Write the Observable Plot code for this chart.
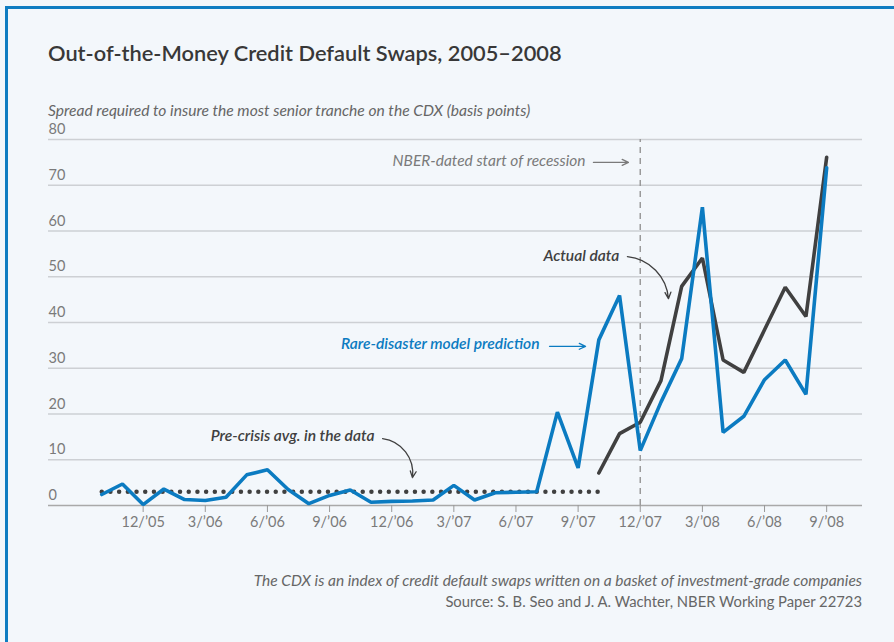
<!DOCTYPE html>
<html><head><meta charset="utf-8">
<script src="https://cdn.jsdelivr.net/npm/d3@7"></script>
<script src="https://cdn.jsdelivr.net/npm/@observablehq/plot@0.6"></script>
<style>
html,body{margin:0;padding:0;background:#f3f7fb;}
#wrap{position:relative;width:894px;height:642px;overflow:hidden;background:#f3f7fb;font-family:Lato,"Noto Sans",sans-serif;}
#frame{position:absolute;left:5px;top:6px;width:1000px;height:1000px;border-left:3px solid #0f7dc2;border-top:3px solid #0f7dc2;}
#title{position:absolute;left:48px;top:40px;font-size:21.8px;line-height:26px;font-weight:600;color:#383838;white-space:nowrap;}
#subtitle{position:absolute;left:48px;top:101px;font-size:15.6px;line-height:18px;font-style:italic;color:#666;white-space:nowrap;}
#caption{position:absolute;right:32px;top:571px;font-size:15.5px;line-height:18px;font-style:italic;color:#666;white-space:nowrap;text-align:right;}
#source{position:absolute;right:32px;top:592px;font-size:14.8px;line-height:18px;color:#666;white-space:nowrap;text-align:right;}
#chart{position:absolute;left:0;top:120px;}
</style>
</head><body>
<div id="wrap">
  <div id="frame"></div>
  <div id="title">Out-of-the-Money Credit Default Swaps, 2005–2008</div>
  <div id="subtitle">Spread required to insure the most senior tranche on the CDX (basis points)</div>
  <div id="chart"></div>
  <div id="caption">The CDX is an index of credit default swaps written on a basket of investment-grade companies</div>
  <div id="source">Source: S. B. Seo and J. A. Wachter, NBER Working Paper 22723</div>
</div>
<script>
// Monthly observations, Oct 2005 – Sep 2008
const months = [
  "2005-10","2005-11","2005-12",
  "2006-01","2006-02","2006-03","2006-04","2006-05","2006-06","2006-07","2006-08","2006-09","2006-10","2006-11","2006-12",
  "2007-01","2007-02","2007-03","2007-04","2007-05","2007-06","2007-07","2007-08","2007-09","2007-10","2007-11","2007-12",
  "2008-01","2008-02","2008-03","2008-04","2008-05","2008-06","2008-07","2008-08","2008-09"
];
// Rare-disaster model prediction (basis points)
const modelValues = [
  2.4, 4.7, 0.2,
  3.6, 1.3, 1.1, 1.8, 6.7, 7.8, 3.5, 0.4, 2.2, 3.4, 0.7, 0.9,
  1.0, 1.2, 4.4, 1.2, 2.8, 2.9, 3.0, 20.4, 8.2, 36.2, 45.9, 12.0,
  22.6, 32.1, 65.2, 16.0, 19.5, 27.5, 31.8, 24.3, 73.8
];
// Actual data (basis points), available from Oct 2007
const actualValues = [
  null, null, null,
  null, null, null, null, null, null, null, null, null, null, null, null,
  null, null, null, null, null, null, null, null, null, 7.1, 15.7, 18.2,
  27.3, 47.9, 54.1, 31.8, 29.1, 38.4, 47.7, 41.3, 76.1
];
const preCrisisAvg = 3.0;
const preCrisisRange = ["2005-10", "2007-10"];
const recessionStart = "2007-12";
const tickMonths = ["2005-12","2006-03","2006-06","2006-09","2006-12","2007-03","2007-06","2007-09","2007-12","2008-03","2008-06","2008-09"];
const tickLabels = ["12/’05","3/’06","6/’06","9/’06","12/’06","3/’07","6/’07","9/’07","12/’07","3/’08","6/’08","9/’08"];
const yTicks = [0, 10, 20, 30, 40, 50, 60, 70, 80];

const idx = m => months.indexOf(m);
const model = months.map((m, i) => ({i, v: modelValues[i]}));
const actual = months.map((m, i) => ({i, v: actualValues[i]})).filter(d => d.v != null);
const preCrisis = preCrisisRange.map(m => ({i: idx(m), v: preCrisisAvg}));
const tickIdx = tickMonths.map(idx);
const tickText = new Map(tickIdx.map((t, k) => [t, tickLabels[k]]));

const BLUE = "#0b7bc1", DARK = "#404040", GRAY = "#7a7a7a";

const noteRecession = {text: "NBER-dated start of recession", i: 23.36, v: 75.2};
const noteActual = {text: "Actual data", i: 24.99, v: 54.6};
const noteModel = {text: "Rare-disaster model prediction", i: 21.14, v: 35.2};
const notePre = {text: "Pre-crisis avg. in the data", i: 13.17, v: 15.3};
const arrowRecession = {i1: 23.74, v1: 75.0, i2: 25.43, v2: 75.0};
const arrowModel = {i1: 21.62, v1: 34.8, i2: 23.36, v2: 34.8};
const arrowActual = {i1: 25.38, v1: 54.4, i2: 27.36, v2: 45.2};
const arrowPre = {i1: 13.56, v1: 14.6, i2: 15.0, v2: 6.1};

const note = (d, fill, weight, size) => Plot.text([d], {x: "i", y: "v", text: "text", fill, fontWeight: weight, fontStyle: "italic", textAnchor: "end", fontSize: size});
const arrow = (d, stroke, bend) => Plot.arrow([d], {x1: "i1", y1: "v1", x2: "i2", y2: "v2", stroke, bend, strokeWidth: 1.3, headLength: 8, headAngle: 50});

const chart = Plot.plot({
  width: 894, height: 420,
  marginLeft: 48, marginRight: 32, marginTop: 19, marginBottom: 35,
  style: {background: "transparent", fontFamily: "Lato, 'Noto Sans', sans-serif", fontSize: "14px", color: "#777", overflow: "visible"},
  x: {domain: [-2.57, 36.73]},
  y: {domain: [0, 80], axis: null},
  marks: [
    Plot.ruleY(yTicks.filter(d => d > 0), {stroke: "#cdd0d4", strokeWidth: 1.5}),
    Plot.ruleY([0], {stroke: "#a9a9a9", strokeWidth: 1.5}),
    Plot.text(yTicks, {y: d => d, frameAnchor: "left", textAnchor: "start", dy: -10, text: d => String(d), fill: "#7a7a7a", fontSize: 14.5}),
    Plot.axisX({ticks: tickIdx, tickFormat: d => tickText.get(d), tickSize: 7, tickPadding: 4, stroke: "#999", fill: "#7a7a7a", fontSize: 14.5, label: null}),
    Plot.ruleX([idx(recessionStart)], {y1: 0, y2: 80, stroke: "#9a9a9a", strokeWidth: 1.5, strokeDasharray: "6,5"}),
    Plot.line(preCrisis, {x: "i", y: "v", stroke: DARK, strokeWidth: 4.5, strokeDasharray: "0,8.7", strokeLinecap: "round"}),
    Plot.line(actual, {x: "i", y: "v", stroke: DARK, strokeWidth: 3.6, strokeLinejoin: "miter"}),
    Plot.line(model, {x: "i", y: "v", stroke: BLUE, strokeWidth: 3.6, strokeLinejoin: "miter"}),
    note(noteRecession, GRAY, "normal", 15.5),
    note(noteActual, DARK, 600, 15.6),
    note(noteModel, BLUE, 600, 15.6),
    note(notePre, DARK, 600, 15.6),
    arrow(arrowRecession, GRAY, 0),
    arrow(arrowModel, BLUE, 0),
    arrow(arrowActual, DARK, 40),
    arrow(arrowPre, DARK, 45)
  ]
});
document.getElementById("chart").appendChild(chart);
</script>
</body></html>
